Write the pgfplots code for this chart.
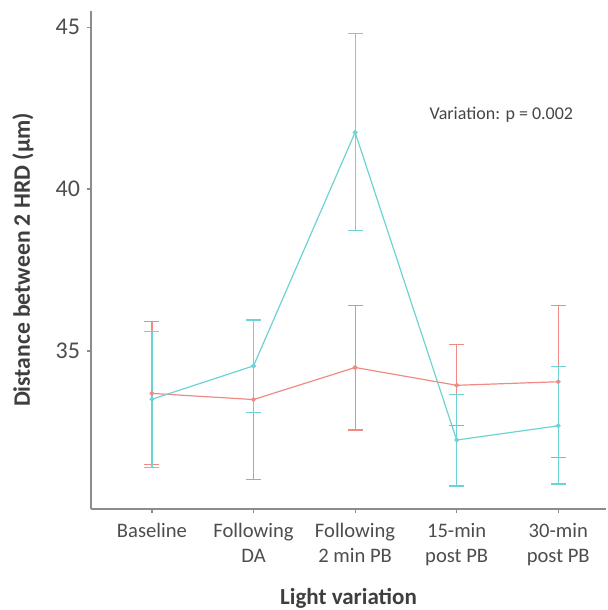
\documentclass[border=0pt]{standalone}
\usepackage{fontspec}
\setmainfont{Carlito}
\usepackage{pgfplots}
\pgfplotsset{compat=1.18}

\definecolor{redline}{HTML}{F08A84}
\definecolor{cyanline}{HTML}{6CD2D3}
\definecolor{axisgray}{HTML}{8C8C8C}
\definecolor{textgray}{HTML}{4D4D4D}

% x  mean  plus  minus
\pgfplotstableread{
x y ep em
0 33.69 2.23 2.20
1 33.50 2.46 2.46
2 34.49 1.91 1.93
3 33.94 1.27 1.25
4 34.05 2.35 2.35
}\redtab
\pgfplotstableread{
x y ep em
0 33.51 2.10 2.11
1 34.54 1.42 1.44
2 41.75 3.06 3.02
3 32.25 1.40 1.42
4 32.69 1.82 1.80
}\cyantab

\begin{document}
\begin{tikzpicture}
\useasboundingbox (-45.5pt,-50.5pt) rectangle (258.5pt,254.5pt);
\begin{axis}[
    scale only axis,
    width=257.5pt,
    height=249pt,
    xmin=-0.6, xmax=4.47,
    ymin=30.12, ymax=45.5,
    axis x line*=bottom,
    axis y line*=left,
    axis line style={axisgray, line width=0.8pt, -},
    xtick={0,1,2,3,4},
    xticklabels={Baseline,Following\\DA,Following\\2 min PB,15-min\\post PB,30-min\\post PB},
    xticklabel style={align=center, font=\fontsize{10.3}{12.5}\selectfont, text=textgray, yshift=-1.5pt},
    ytick={35,40,45},
    yticklabel style={font=\fontsize{12}{13}\selectfont, text=textgray},
    /pgf/number format/assume math mode=true,
    tick style={axisgray, line width=0.6pt},
    tick align=outside,
    major tick length=2pt,
    xlabel={\bfseries Light variation},
    ylabel={\bfseries Distance between 2 HRD (µm)},
    xlabel style={font=\fontsize{11.5}{13}\selectfont, text=textgray!80!black, at={(axis description cs:0.5,0)}, anchor=center, yshift=-44.5pt},
    ylabel style={font=\fontsize{11.8}{13}\selectfont, text=textgray!80!black, at={(axis description cs:-0.132,0.5)}, anchor=center},
    clip=false,
]
\addplot[redline, line width=0.6pt, mark=*, mark size=0.9pt,
    error bars/.cd, y dir=both, y explicit,
    error mark=-, error mark options={redline, line width=0.6pt, mark size=3.75pt, rotate=90},
    error bar style={redline, line width=0.6pt}]
    table[x=x, y=y, y error plus=ep, y error minus=em] {\redtab};
\addplot[cyanline, line width=0.6pt, mark=*, mark size=0.9pt,
    error bars/.cd, y dir=both, y explicit,
    error mark=-, error mark options={cyanline, line width=0.6pt, mark size=3.75pt, rotate=90},
    error bar style={cyanline, line width=0.6pt}]
    table[x=x, y=y, y error plus=ep, y error minus=em] {\cyantab};
\node[font=\fontsize{9}{11}\selectfont, text=textgray!90!black] at (axis cs:3.44,42.31) {Variation: p = 0.002};
\end{axis}
\end{tikzpicture}
\end{document}
